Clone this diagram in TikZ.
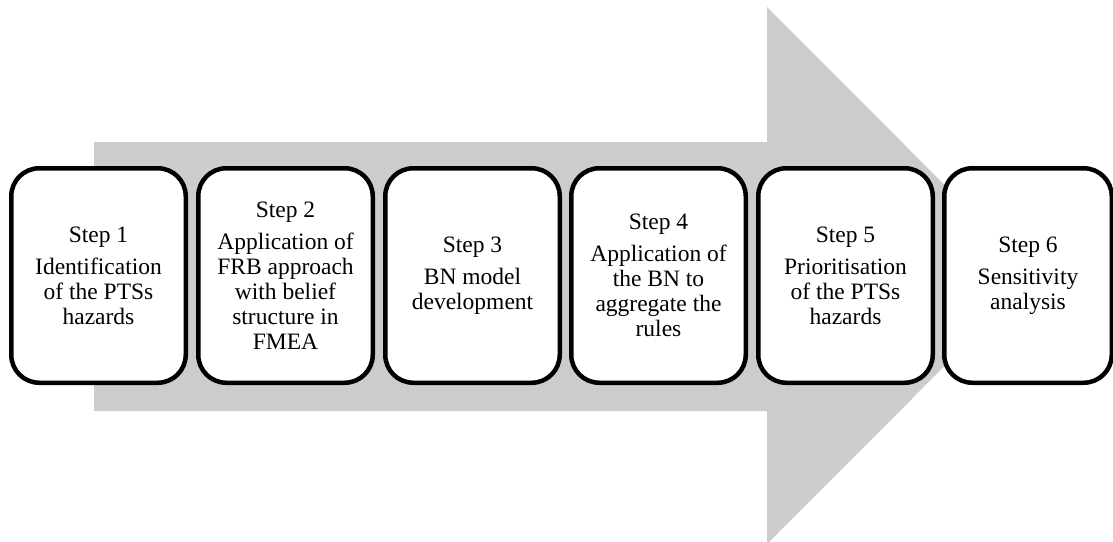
\documentclass[tikz,border=0pt]{standalone}
\usepackage{fontspec}
\setmainfont{Liberation Serif}
\definecolor{arrowgray}{RGB}{204,204,204}
\tikzset{
  stepbox/.style={draw=black, fill=white, line width=4.5pt, rounded corners=28pt,
    minimum width=174.5pt, minimum height=214.5pt, inner sep=0pt, align=center,
    font=\fontsize{23.5}{25}\selectfont},
  bigarrow/.style={fill=arrowgray, draw=none}
}
\begin{document}
\begin{tikzpicture}[x=1pt, y=-1pt]
  \useasboundingbox (0,0) rectangle (1113,541);
  \clip (0,0) rectangle (1113,541);
  % process arrow in the background
  \fill[bigarrow] (94,142) -- (767,142) -- (767,7) -- (1035,275.5)
    -- (767,544) -- (767,411) -- (94,411) -- cycle;
  % the six steps
  \node[stepbox] (s1) at (98.5,275.5) {Step 1\\[7pt]Identification\\of the PTSs\\hazards};
  \node[stepbox] (s2) at (285.5,275.5) {Step 2\\[7pt]Application of\\FRB approach\\with belief\\structure in\\FMEA};
  \node[stepbox] (s3) at (472.5,275.5) {Step 3\\[7pt]BN model\\development};
  \node[stepbox] (s4) at (658.5,275.5) {Step 4\\[7pt]Application of\\the BN to\\aggregate the\\rules};
  \node[stepbox] (s5) at (845.5,275.5) {Step 5\\[7pt]Prioritisation\\of the PTSs\\hazards};
  \node[stepbox, minimum width=167.5pt] (s6) at (1028,275.5) {Step 6\\[7pt]Sensitivity\\analysis};
\end{tikzpicture}
\end{document}
